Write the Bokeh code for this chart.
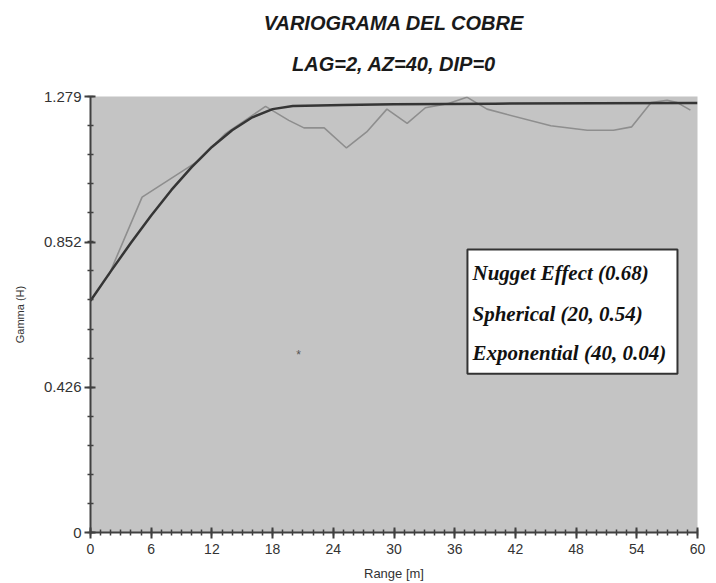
from bokeh.plotting import figure
from bokeh.models import Range1d, FixedTicker, CustomJSTickFormatter, Label, BoxAnnotation, Title
from bokeh.embed import file_html
from bokeh.resources import INLINE

# ---- data ----
exp_lag = [1.8, 5.1, 10.7, 13.3, 17.3, 19.6, 21.1, 23.1, 25.3, 27.3, 29.3, 31.3,
           33.1, 35.3, 37.2, 39.2, 41.2, 45.5, 49.1, 51.7, 53.5, 55.4, 57.0, 58.0, 59.3]
exp_gamma = [0.754, 0.984, 1.091, 1.169, 1.250, 1.209, 1.187, 1.187, 1.128, 1.175, 1.242, 1.200,
             1.246, 1.258, 1.277, 1.242, 1.226, 1.193, 1.180, 1.180, 1.190, 1.261, 1.268, 1.261, 1.239]
model_lag = [0, 2, 4, 6, 8, 10, 12, 14, 16, 18, 20, 25, 30, 40, 50, 60]
model_gamma = [0.680, 0.766, 0.850, 0.930, 1.005, 1.072, 1.131, 1.180, 1.218, 1.242,
               1.251, 1.254, 1.256, 1.258, 1.259, 1.260]
x_ticks = [0, 6, 12, 18, 24, 30, 36, 42, 48, 54, 60]
y_ticks = [0, 0.426, 0.852, 1.279]
title_text = "VARIOGRAMA DEL COBRE"
subtitle_text = "LAG=2, AZ=40, DIP=0"
legend_lines = ["Nugget Effect (0.68)", "Spherical (20, 0.54)", "Exponential (40, 0.04)"]

p = figure(width=716, height=583, x_range=Range1d(0, 60), y_range=Range1d(0, 1.279),
           output_backend="svg", toolbar_location=None,
           min_border_left=90, min_border_right=19, min_border_top=96, min_border_bottom=51)
p.background_fill_color = "#c4c4c4"
p.border_fill_color = "white"
p.outline_line_color = None
p.grid.visible = False

p.title = Title(text=title_text, align="center", offset=4, standoff=14,
                text_font="Liberation Sans", text_font_style="bold italic",
                text_font_size="20px", text_color="#1a1a1a")
# spacer panel right above the frame
p.add_layout(Title(text=" ", standoff=8, text_font_size="2px", text_color="white"), "above")
p.add_layout(Title(text=subtitle_text, align="center", offset=4, standoff=20,
                   text_font="Liberation Sans", text_font_style="bold italic",
                   text_font_size="20px", text_color="#1a1a1a"), "above")

for ax in (p.xaxis[0], p.yaxis[0]):
    ax.axis_line_color = "#404040"
    ax.axis_line_width = 2
    ax.major_tick_line_color = "#404040"
    ax.minor_tick_line_color = "#404040"
    ax.major_tick_line_width = 2
    ax.minor_tick_line_width = 1.5
    ax.major_tick_in = 5
    ax.major_tick_out = 6
    ax.minor_tick_in = 3
    ax.minor_tick_out = 3
    ax.major_label_text_font = "Liberation Sans"
    ax.major_label_text_color = "#333333"
    ax.axis_label_text_font = "Liberation Sans"
    ax.axis_label_text_font_style = "normal"
    ax.axis_label_text_color = "#333333"

p.xaxis.ticker = FixedTicker(ticks=x_ticks, minor_ticks=list(range(0, 61)))
p.xaxis.major_label_text_font_size = "14px"
p.xaxis.major_label_standoff = 5
p.xaxis.axis_label = "Range [m]"
p.xaxis.axis_label_text_font_size = "13px"
p.xaxis.axis_label_standoff = 9

p.yaxis.ticker = FixedTicker(ticks=y_ticks, minor_ticks=[1.279 * i / 15 for i in range(16)])
p.yaxis.formatter = CustomJSTickFormatter(code="return tick == 0 ? '0' : tick.toFixed(3);")
p.yaxis.major_label_text_font_size = "15px"
p.yaxis.major_label_standoff = 3
p.yaxis.axis_label = "Gamma (H)"
p.yaxis.axis_label_text_font_size = "11px"
p.yaxis.axis_label_standoff = 15

p.line(exp_lag, exp_gamma, line_color="#8e8e8e", line_width=1.6)
p.line(model_lag, model_gamma, line_color="#353535", line_width=2.5)

p.add_layout(BoxAnnotation(left=37.26, right=58.02, bottom=0.466, top=0.830,
                           fill_color="white", fill_alpha=1.0,
                           line_color="#333333", line_width=2, line_alpha=1.0))
for txt, yy in zip(legend_lines, [0.760, 0.642, 0.528]):
    p.add_layout(Label(x=37.76, y=yy, text=txt, text_align="left", text_baseline="middle",
                       text_font="Liberation Serif", text_font_style="bold italic",
                       text_font_size="21px", text_color="#111111"))

p.add_layout(Label(x=20.56, y=0.522, text="*", text_align="center", text_baseline="middle",
                   text_font="Liberation Sans", text_font_size="12px", text_color="#555555"))
p.add_layout(Label(x=61.0, y=0.648, text="#", text_align="center", text_baseline="middle",
                   text_font="Liberation Sans", text_font_size="13px", text_color="#999999"))

open("out.html", "w").write(file_html(p, INLINE))
